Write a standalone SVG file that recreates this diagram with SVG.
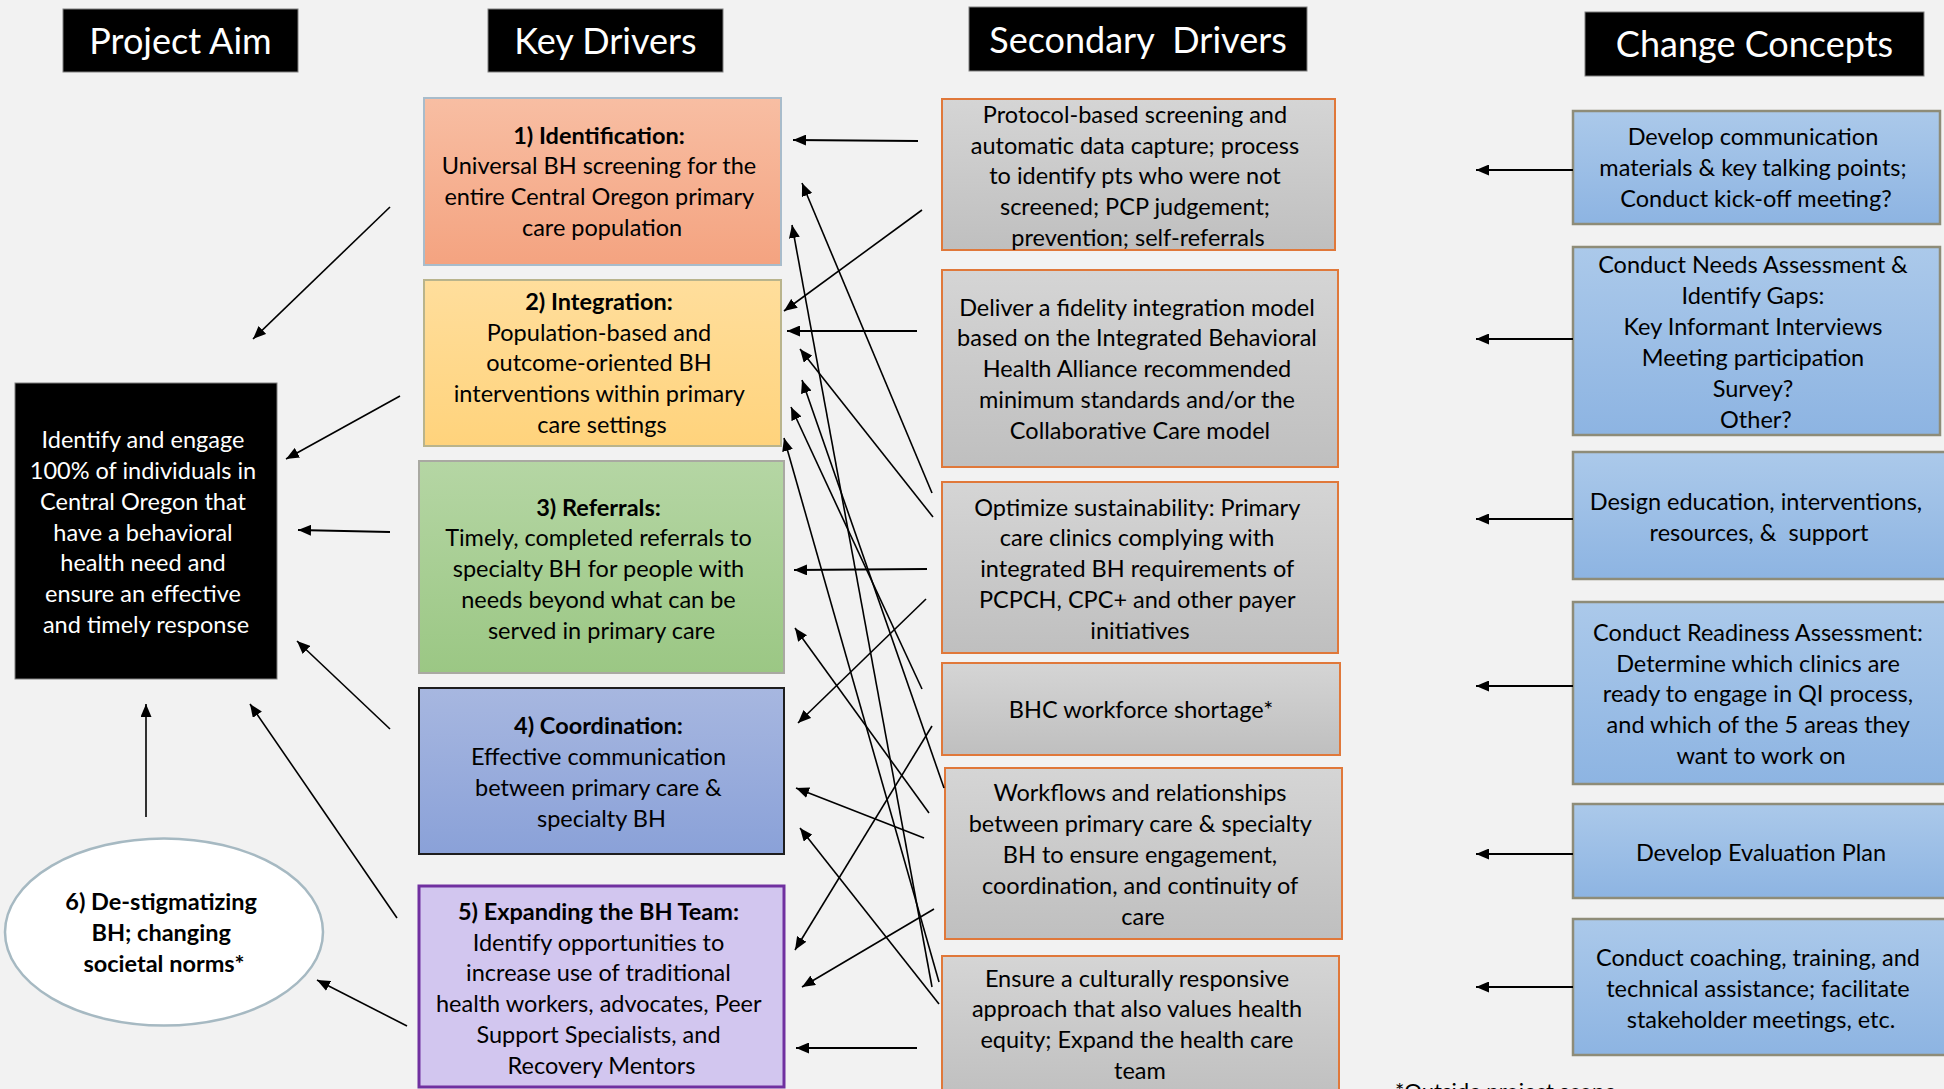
<svg xmlns="http://www.w3.org/2000/svg" width="1944" height="1089" viewBox="0 0 1944 1089">
  <defs>
    <linearGradient id="gId" x1="0" y1="0" x2="0" y2="1"><stop offset="0" stop-color="#F8BEA3"/><stop offset="1" stop-color="#F4A380"/></linearGradient>
    <linearGradient id="gIn" x1="0" y1="0" x2="0" y2="1"><stop offset="0" stop-color="#FFDE9C"/><stop offset="1" stop-color="#FFD37C"/></linearGradient>
    <linearGradient id="gRe" x1="0" y1="0" x2="0" y2="1"><stop offset="0" stop-color="#B5D6A4"/><stop offset="1" stop-color="#9BC784"/></linearGradient>
    <linearGradient id="gCo" x1="0" y1="0" x2="0" y2="1"><stop offset="0" stop-color="#A7B7E0"/><stop offset="1" stop-color="#8AA1D8"/></linearGradient>
    <linearGradient id="gSd" x1="0" y1="0" x2="0" y2="1"><stop offset="0" stop-color="#D5D5D5"/><stop offset="1" stop-color="#BFBFBF"/></linearGradient>
    <linearGradient id="gCc" x1="0" y1="0" x2="0" y2="1"><stop offset="0" stop-color="#ABC9EA"/><stop offset="1" stop-color="#8DB4E2"/></linearGradient>
    <marker id="ah" markerWidth="13" markerHeight="11" refX="13" refY="5.5" orient="auto" markerUnits="userSpaceOnUse">
      <path d="M0,0 L13,5.5 L0,11 z" fill="#000"/>
    </marker>
  </defs>
  <style>
    text { font-family: Lato, "Liberation Sans", sans-serif; text-anchor: middle; fill: #000; }
    .hd rect { fill: #000; stroke: #7F7F7F; stroke-width: 1; }
    .hd text { fill: #fff; font-size: 36px; white-space: pre; }
    .t { font-size: 23.5px; }
    .b { font-weight: bold; }
    .w { fill: #fff; }
    .sd { fill: url(#gSd); stroke: #E0783A; stroke-width: 2; }
    .cc { fill: url(#gCc); stroke: #8E8C78; stroke-width: 2.5; }
    .con line { stroke: #000; stroke-width: 1.6; marker-end: url(#ah); }
    .con line.h { stroke-width: 2.2; }
  </style>

  <rect width="1944" height="1089" fill="#F2F2F2"/>

  <!-- column headers -->
  <g id="hdr-aim" class="hd"><rect x="63" y="9" width="235" height="63"/><text x="180.5" y="54">Project Aim</text></g>
  <g id="hdr-key" class="hd"><rect x="488" y="9" width="235" height="63"/><text x="605.5" y="54">Key Drivers</text></g>
  <g id="hdr-sec" class="hd"><rect x="969" y="7" width="338" height="64"/><text x="1138" y="53">Secondary  Drivers</text></g>
  <g id="hdr-chg" class="hd"><rect x="1585" y="12" width="339" height="64"/><text x="1754.5" y="57">Change Concepts</text></g>

  <!-- project aim -->
  <g id="aim">
    <rect x="15" y="383" width="262" height="296" fill="#000" stroke="#7F7F7F" stroke-width="1"/>
    <text class="t w">
      <tspan x="146" y="448">Identify and engage</tspan>
      <tspan x="146" y="479">100% of individuals in</tspan>
      <tspan x="146" y="510">Central Oregon that</tspan>
      <tspan x="146" y="541">have a behavioral</tspan>
      <tspan x="146" y="571">health need and</tspan>
      <tspan x="146" y="602">ensure an effective</tspan>
      <tspan x="146" y="633">and timely response</tspan>
    </text>
  </g>

  <!-- key drivers -->
  <g id="kd1">
    <rect x="424" y="98" width="357" height="167" fill="url(#gId)" stroke="#A8BCCB" stroke-width="2"/>
    <text class="t">
      <tspan class="b" x="602" y="144">1) Identification:</tspan>
      <tspan x="602" y="174">Universal BH screening for the</tspan>
      <tspan x="602" y="205">entire Central Oregon primary</tspan>
      <tspan x="602" y="236">care population</tspan>
    </text>
  </g>
  <g id="kd2">
    <rect x="424" y="280" width="357" height="166" fill="url(#gIn)" stroke="#B9B48C" stroke-width="2"/>
    <text class="t">
      <tspan class="b" x="602" y="310">2) Integration:</tspan>
      <tspan x="602" y="341">Population-based and</tspan>
      <tspan x="602" y="371">outcome-oriented BH</tspan>
      <tspan x="602" y="402">interventions within primary</tspan>
      <tspan x="602" y="433">care settings</tspan>
    </text>
  </g>
  <g id="kd3">
    <rect x="419" y="461" width="365" height="212" fill="url(#gRe)" stroke="#A9A9A2" stroke-width="2"/>
    <text class="t">
      <tspan class="b" x="601.5" y="516">3) Referrals:</tspan>
      <tspan x="601.5" y="546">Timely, completed referrals to</tspan>
      <tspan x="601.5" y="577">specialty BH for people with</tspan>
      <tspan x="601.5" y="608">needs beyond what can be</tspan>
      <tspan x="601.5" y="639">served in primary care</tspan>
    </text>
  </g>
  <g id="kd4">
    <rect x="419" y="688" width="365" height="166" fill="url(#gCo)" stroke="#1E1E1E" stroke-width="2"/>
    <text class="t">
      <tspan class="b" x="601.5" y="734">4) Coordination:</tspan>
      <tspan x="601.5" y="765">Effective communication</tspan>
      <tspan x="601.5" y="796">between primary care &amp;</tspan>
      <tspan x="601.5" y="827">specialty BH</tspan>
    </text>
  </g>
  <g id="kd5">
    <rect x="419" y="886" width="365" height="201" fill="#D2C6EF" stroke="#7030A0" stroke-width="3"/>
    <text class="t">
      <tspan class="b" x="601.5" y="920">5) Expanding the BH Team:</tspan>
      <tspan x="601.5" y="951">Identify opportunities to</tspan>
      <tspan x="601.5" y="981">increase use of traditional</tspan>
      <tspan x="601.5" y="1012">health workers, advocates, Peer</tspan>
      <tspan x="601.5" y="1043">Support Specialists, and</tspan>
      <tspan x="601.5" y="1074">Recovery Mentors</tspan>
    </text>
  </g>
  <g id="kd6">
    <ellipse cx="164" cy="932" rx="159" ry="93.5" fill="#FFFFFF" stroke="#A6B9C2" stroke-width="2.5"/>
    <text class="t b">
      <tspan x="164" y="910">6) De-stigmatizing</tspan>
      <tspan x="164" y="941">BH; changing</tspan>
      <tspan x="164" y="972">societal norms*</tspan>
    </text>
  </g>

  <!-- secondary drivers -->
  <g id="sd1">
    <rect class="sd" x="942" y="99" width="393" height="151"/>
    <text class="t">
      <tspan x="1138" y="123">Protocol-based screening and</tspan>
      <tspan x="1138" y="154">automatic data capture; process</tspan>
      <tspan x="1138" y="184">to identify pts who were not</tspan>
      <tspan x="1138" y="215">screened; PCP judgement;</tspan>
      <tspan x="1138" y="246">prevention; self-referrals</tspan>
    </text>
  </g>
  <g id="sd2">
    <rect class="sd" x="942" y="270" width="396" height="197"/>
    <text class="t">
      <tspan x="1140" y="316">Deliver a fidelity integration model</tspan>
      <tspan x="1140" y="346">based on the Integrated Behavioral</tspan>
      <tspan x="1140" y="377">Health Alliance recommended</tspan>
      <tspan x="1140" y="408">minimum standards and/or the</tspan>
      <tspan x="1140" y="439">Collaborative Care model</tspan>
    </text>
  </g>
  <g id="sd3">
    <rect class="sd" x="942" y="482" width="396" height="171"/>
    <text class="t">
      <tspan x="1140" y="516">Optimize sustainability: Primary</tspan>
      <tspan x="1140" y="546">care clinics complying with</tspan>
      <tspan x="1140" y="577">integrated BH requirements of</tspan>
      <tspan x="1140" y="608">PCPCH, CPC+ and other payer</tspan>
      <tspan x="1140" y="639">initiatives</tspan>
    </text>
  </g>
  <g id="sd4">
    <rect class="sd" x="942" y="663" width="398" height="92"/>
    <text class="t" x="1141" y="718">BHC workforce shortage*</text>
  </g>
  <g id="sd5">
    <rect class="sd" x="945" y="768" width="397" height="171"/>
    <text class="t">
      <tspan x="1143" y="801">Workflows and relationships</tspan>
      <tspan x="1143" y="832">between primary care &amp; specialty</tspan>
      <tspan x="1143" y="863">BH to ensure engagement,</tspan>
      <tspan x="1143" y="894">coordination, and continuity of</tspan>
      <tspan x="1143" y="925">care</tspan>
    </text>
  </g>
  <g id="sd6">
    <rect class="sd" x="942" y="956" width="397" height="145"/>
    <text class="t">
      <tspan x="1140" y="987">Ensure a culturally responsive</tspan>
      <tspan x="1140" y="1017">approach that also values health</tspan>
      <tspan x="1140" y="1048">equity; Expand the health care</tspan>
      <tspan x="1140" y="1079">team</tspan>
    </text>
  </g>

  <!-- change concepts -->
  <g id="cc1">
    <rect class="cc" x="1573" y="111" width="367" height="113"/>
    <text class="t">
      <tspan x="1756" y="145">Develop communication</tspan>
      <tspan x="1756" y="176">materials &amp; key talking points;</tspan>
      <tspan x="1756" y="207">Conduct kick-off meeting?</tspan>
    </text>
  </g>
  <g id="cc2">
    <rect class="cc" x="1573" y="247" width="367" height="188"/>
    <text class="t">
      <tspan x="1756" y="273">Conduct Needs Assessment &amp;</tspan>
      <tspan x="1756" y="304">Identify Gaps:</tspan>
      <tspan x="1756" y="335">Key Informant Interviews</tspan>
      <tspan x="1756" y="366">Meeting participation</tspan>
      <tspan x="1756" y="397">Survey?</tspan>
      <tspan x="1756" y="428">Other?</tspan>
    </text>
  </g>
  <g id="cc3">
    <rect class="cc" x="1573" y="452" width="380" height="127"/>
    <text class="t">
      <tspan x="1759" y="510">Design education, interventions,</tspan>
      <tspan x="1759" y="541">resources, &amp;&#160; support</tspan>
    </text>
  </g>
  <g id="cc4">
    <rect class="cc" x="1573" y="602" width="380" height="182"/>
    <text class="t">
      <tspan x="1761" y="641">Conduct Readiness Assessment:</tspan>
      <tspan x="1761" y="672">Determine which clinics are</tspan>
      <tspan x="1761" y="702">ready to engage in QI process,</tspan>
      <tspan x="1761" y="733">and which of the 5 areas they</tspan>
      <tspan x="1761" y="764">want to work on</tspan>
    </text>
  </g>
  <g id="cc5">
    <rect class="cc" x="1573" y="804" width="380" height="94"/>
    <text class="t" x="1761" y="861">Develop Evaluation Plan</text>
  </g>
  <g id="cc6">
    <rect class="cc" x="1573" y="919" width="380" height="136"/>
    <text class="t">
      <tspan x="1761" y="966">Conduct coaching, training, and</tspan>
      <tspan x="1761" y="997">technical assistance; facilitate</tspan>
      <tspan x="1761" y="1028">stakeholder meetings, etc.</tspan>
    </text>
  </g>

  <text class="t" x="1395" y="1099" style="text-anchor:start;font-size:22px">*Outside project scope</text>

  <!-- connectors -->
  <g id="connectors" class="con">
    <!-- key drivers to aim -->
    <line x1="390" y1="207" x2="253" y2="339"/>
    <line x1="400" y1="396" x2="286" y2="459"/>
    <line class="h" x1="390" y1="532" x2="298" y2="530"/>
    <line x1="390" y1="729" x2="297" y2="641"/>
    <line x1="146" y1="817" x2="146" y2="704"/>
    <line x1="397" y1="918" x2="250" y2="704"/>
    <line x1="407" y1="1026" x2="317" y2="980"/>
    <!-- secondary drivers to key drivers -->
    <line class="h" x1="918" y1="141" x2="793" y2="140"/>
    <line x1="922" y1="210" x2="784" y2="311"/>
    <line class="h" x1="917" y1="331" x2="787" y2="331"/>
    <line x1="932" y1="493" x2="802" y2="183"/>
    <line x1="932" y1="987" x2="792" y2="225"/>
    <line x1="933" y1="517" x2="800" y2="349"/>
    <line x1="944" y1="788" x2="802" y2="380"/>
    <line x1="922" y1="689" x2="791" y2="407"/>
    <line x1="939" y1="982" x2="784" y2="438"/>
    <line class="h" x1="927" y1="569" x2="794" y2="570"/>
    <line x1="926" y1="599" x2="798" y2="723"/>
    <line x1="929" y1="813" x2="795" y2="628"/>
    <line x1="932" y1="726" x2="795" y2="950"/>
    <line x1="924" y1="838" x2="796" y2="788"/>
    <line x1="939" y1="1004" x2="800" y2="828"/>
    <line x1="934" y1="909" x2="802" y2="987"/>
    <line class="h" x1="917" y1="1048" x2="796" y2="1048"/>
    <!-- change concepts to secondary drivers -->
    <line class="h" x1="1573" y1="170" x2="1476" y2="170"/>
    <line class="h" x1="1573" y1="339" x2="1476" y2="339"/>
    <line class="h" x1="1573" y1="519" x2="1476" y2="519"/>
    <line class="h" x1="1573" y1="686" x2="1476" y2="686"/>
    <line class="h" x1="1573" y1="854" x2="1476" y2="854"/>
    <line class="h" x1="1573" y1="987" x2="1476" y2="987"/>
  </g>
</svg>
